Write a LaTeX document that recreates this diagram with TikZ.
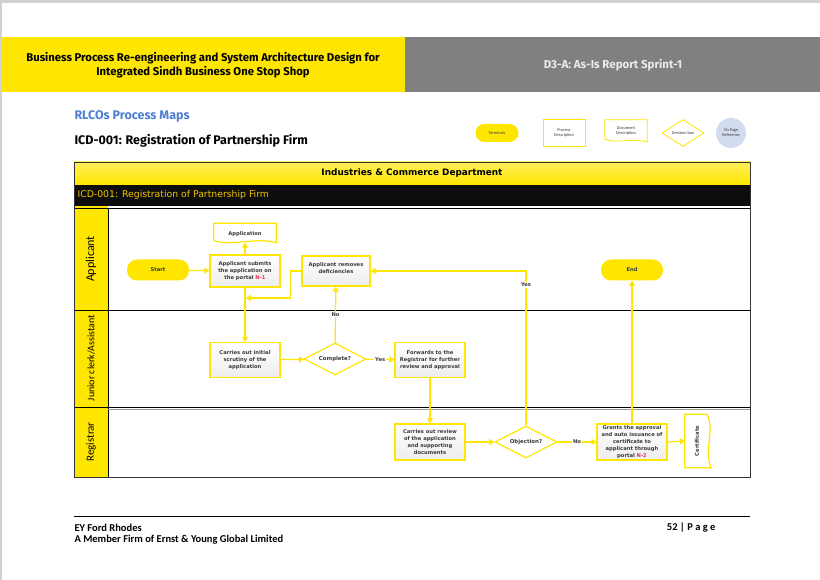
\documentclass[tikz,border=0pt]{standalone}
\usepackage{fontspec}
\setmainfont{Fira Sans}
\newfontfamily\boxfont{DejaVu Sans}
\newfontfamily\narrowfont{Carlito}
\usetikzlibrary{arrows.meta, shapes.geometric, positioning}
\definecolor{eyyellow}{HTML}{FFE600}
\definecolor{eygray}{HTML}{808080}
\definecolor{mapblue}{HTML}{4F7FD0}
\definecolor{boxtext}{HTML}{3A3A3A}
\definecolor{refred}{HTML}{F0305A}
\definecolor{refblue}{HTML}{D2DCEF}
\definecolor{bandblack}{HTML}{0D0D0D}
\definecolor{bandtext}{HTML}{F2C500}

\begin{document}
\begin{tikzpicture}[x=1pt, y=-1pt,
  proc/.style={rectangle, draw=eyyellow, line width=1.2pt, top color=white,
               bottom color=black!7, minimum width=70, minimum height=35,
               align=center, text=boxtext, inner sep=1pt,
               font=\boxfont\fontsize{5.2}{7}\selectfont\bfseries},
  term/.style={rectangle, rounded corners=10pt, fill=eyyellow, minimum width=62,
               minimum height=21, text=boxtext, font=\boxfont\fontsize{5.2}{7}\selectfont\bfseries},
  decide/.style={diamond, aspect=2, draw=eyyellow, line width=1.2pt, fill=white,
                 minimum width=62, minimum height=32, inner sep=0pt, text=boxtext,
                 font=\boxfont\fontsize{5.4}{7}\selectfont\bfseries},
  docbox/.style={rectangle, minimum width=62, minimum height=19, text=boxtext,
                 font=\boxfont\fontsize{5.2}{7}\selectfont\bfseries},
  docline/.style={draw=eyyellow, line width=1.2pt, fill=white},
  flow/.style={draw=eyyellow, line width=1.2pt, -{Triangle[length=5pt, width=6pt]}},
  lbl/.style={fill=white, inner sep=1pt, text=boxtext, font=\boxfont\fontsize{5.2}{6}\selectfont\bfseries},
  lane/.style={rotate=90, font=\narrowfont\fontsize{10}{12}\selectfont},
  legend/.style={text=boxtext, align=center, font=\narrowfont\fontsize{4.3}{4.8}\selectfont},
  foot/.style={font=\narrowfont\fontsize{10.5}{12}\selectfont\bfseries},
]
\useasboundingbox (0,0) rectangle (820,580);
% ---- page and header bands ----
\fill[black!18] (0,0) rectangle (820,580);
\fill[white] (2,3) rectangle (820,580);
\fill[eyyellow] (2,37) rectangle (405,92);
\fill[eygray] (405,37) rectangle (820,92);
\node[font=\fontsize{11.3}{14}\selectfont\bfseries, align=center] (project) at (203,65)
  {Business Process Re-engineering and System Architecture Design for\\Integrated Sindh Business One Stop Shop};
\node[font=\fontsize{11.5}{13}\selectfont\bfseries, text=white!92!black] (sprint) at (613,65)
  {D3-A: As-Is Report Sprint-1};
\node[anchor=west, font=\fontsize{12.5}{14}\selectfont\bfseries, text=mapblue] (maps) at (71,116) {RLCOs Process Maps};
\node[anchor=west, font=\fontsize{12.5}{14}\selectfont\bfseries] (title) at (71,141) {ICD-001: Registration of Partnership Firm};
% ---- legend ----
\node[term, minimum width=43, minimum height=18, rounded corners=9pt, legend] (lterm) at (497,133) {Terminals};
\node[rectangle, draw=eyyellow, thick, minimum width=42, minimum height=27, legend] (lproc) at (564,133) {Process\\Description};
\node[legend, minimum width=42, minimum height=22] (ldoc) at (626,131) {};
\draw[docline, thick] (ldoc.south east) -- (ldoc.north east) -- (ldoc.north west) -- ([yshift=3]ldoc.south west)
  .. controls +(14,5) and +(-14,-5) .. (ldoc.south east);
\node[legend] at (626,131) {Document\\Description};
\node[diamond, aspect=1.6, draw=eyyellow, thick, minimum width=42, minimum height=27, inner sep=0pt, legend] (ldec) at (683,133) {Decision box};
\node[circle, fill=refblue, minimum size=30, inner sep=0pt, legend] (lref) at (731,133) {On Page\\Reference};
% ---- swimlane frame ----
\shade[top color=eyyellow!65, bottom color=eyyellow] (74,162) rectangle (750,185);
\fill[bandblack] (74,185) rectangle (750,206);
\fill[eyyellow] (74,206) rectangle (108,477);
\draw[black, line width=0.9pt] (108,208) -- (108,477);
\draw[black, line width=0.9pt] (74,208) -- (750,208);
\draw[black, line width=0.9pt] (74,310) -- (750,310);
\draw[black, line width=0.9pt] (74,407) -- (750,407);
\draw[black!40, line width=0.6pt] (108,409) -- (750,409);
\draw[black!80, line width=0.9pt] (74,162) rectangle (750,477);
\node[font=\boxfont\fontsize{8.9}{10}\selectfont\bfseries] (dept) at (412,173) {Industries \& Commerce Department};
\node[anchor=west, text=bandtext, font=\boxfont\fontsize{9.3}{11}\selectfont] (band) at (74,195) {ICD-001: Registration of Partnership Firm};
\node[lane, font=\narrowfont\fontsize{12}{14}\selectfont] (lapp) at (91,259) {Applicant};
\node[lane] (lclerk) at (91,358) {Junior clerk/Assistant};
\node[lane, font=\narrowfont\fontsize{11}{13}\selectfont] (lreg) at (91,442) {Registrar};
% ---- applicant lane ----
\node[term] (start) at (158,270) {Start};
\node[proc, minimum height=32] (submit) at (245,271) {Applicant submits\\the application on\\the portal \textcolor{refred}{N-1}};
\node[docbox] (appdoc) at (245,233) {};
\draw[docline] ([yshift=2]appdoc.south west) -- (appdoc.north west) -- (appdoc.north east) -- (appdoc.south east)
  .. controls +(-20,-6) and +(20,6) .. ([yshift=2]appdoc.south west);
\node[docbox] at ([yshift=-1]appdoc) {Application};
\node[proc, minimum width=68, minimum height=30, text depth=6pt] (removes) at (336,271) {Applicant removes\\deficiencies};
\node[term] (finish) at (632,270) {End};
\coordinate (merge) at (245,298);
% ---- junior clerk lane ----
\node[proc] (scrutiny) at (245,360) {Carries out initial\\scrutiny of the\\application};
\node[decide] (complete) at (335,359) {Complete?};
\node[proc] (forward) at (430,360) {Forwards to the\\Registrar for further\\review and approval};
% ---- registrar lane ----
\node[proc, minimum height=36] (review) at (430,442) {Carries out review\\of the application\\and supporting\\documents};
\node[decide] (objection) at (526,442) {Objection?};
\node[proc, minimum height=36] (grants) at (632,442) {Grants the approval\\and auto issuance of\\certificate to\\applicant through\\portal \textcolor{refred}{N-2}};
\node[docbox, minimum width=22, minimum height=53] (cert) at (696,441) {};
\draw[docline] (cert.north east) -- (cert.north west) -- (cert.south west) -- ([xshift=4]cert.south east)
  .. controls +(-8,-18) and +(8,18) .. (cert.north east);
\node[docbox, rotate=90] at (697,441) {Certificate};
% ---- connectors ----
\draw[flow] (start) -- (submit);
\draw[flow] (submit) -- (appdoc);
\draw[flow] (submit) -- (scrutiny);
\draw[flow, shorten >=1pt] (removes.west) -- ++(-11,0) |- (merge);
\draw[flow] (scrutiny) -- (complete);
\draw[flow] (complete) -- node[lbl] {No} (removes);
\draw[flow] (complete) -- node[lbl] {Yes} (forward);
\draw[flow] (forward) -- (review);
\draw[flow] (review) -- (objection);
\draw[flow] (objection.north) |- node[lbl, pos=0.455] {Yes} (removes.east);
\draw[flow] (objection) -- node[lbl] {No} (grants);
\draw[flow] (grants) -- (finish);
\draw[flow] (grants.east) -- (cert.west);
% ---- footer ----
\draw[black, line width=1pt] (74,516) -- (750,516);
\node[anchor=west, foot] (firm) at (71,528) {EY Ford Rhodes};
\node[anchor=west, foot] (member) at (71,540) {A Member Firm of Ernst \& Young Global Limited};
\node[anchor=east, foot] (page) at (719,528) {52 | P a g e};
\end{tikzpicture}
\end{document}
